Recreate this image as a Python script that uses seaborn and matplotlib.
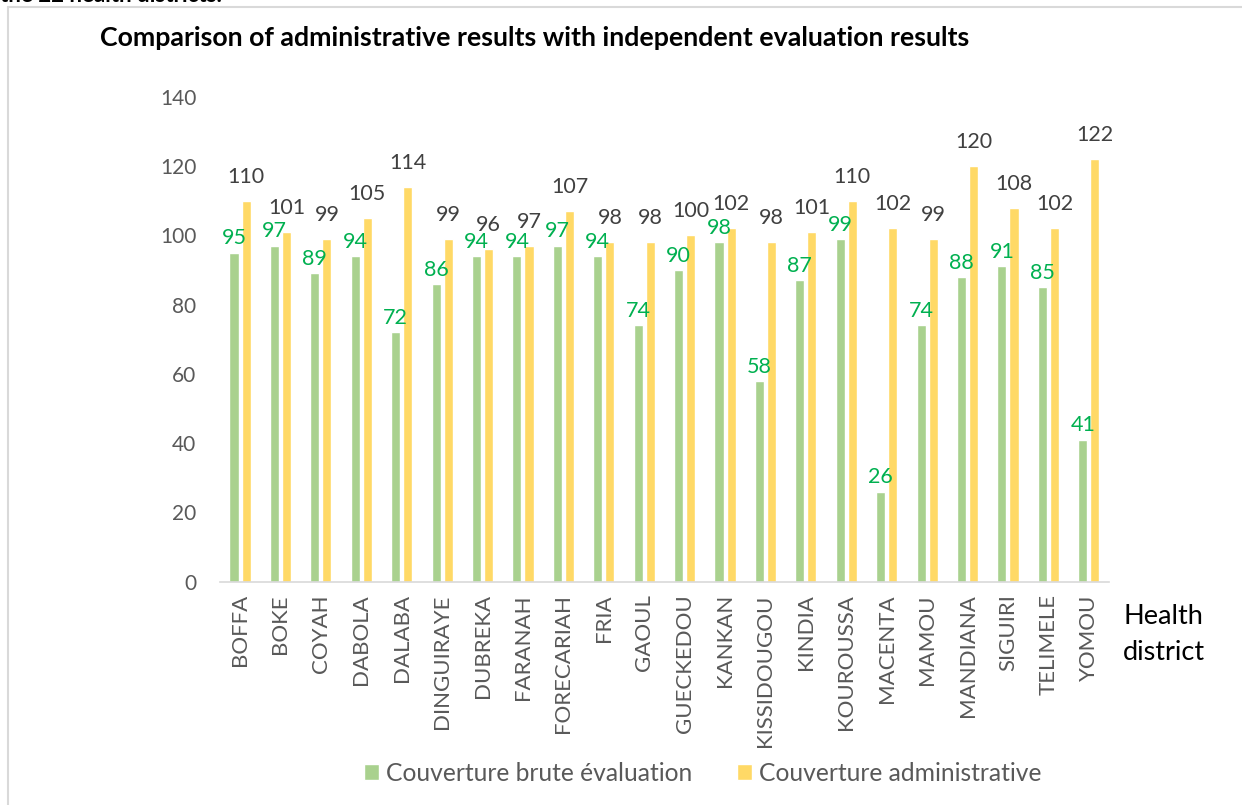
import matplotlib
matplotlib.use("Agg")
import matplotlib.pyplot as plt
from matplotlib.lines import Line2D
import seaborn as sns
import pandas as pd

districts = ["BOFFA", "BOKE", "COYAH", "DABOLA", "DALABA", "DINGUIRAYE", "DUBREKA",
             "FARANAH", "FORECARIAH", "FRIA", "GAOUL", "GUECKEDOU", "KANKAN",
             "KISSIDOUGOU", "KINDIA", "KOUROUSSA", "MACENTA", "MAMOU", "MANDIANA",
             "SIGUIRI", "TELIMELE", "YOMOU"]
eval_coverage = [95, 97, 89, 94, 72, 86, 94, 94, 97, 94, 74, 90, 98, 58, 87, 99,
                 26, 74, 88, 91, 85, 41]
admin_coverage = [110, 101, 99, 105, 114, 99, 96, 97, 107, 98, 98, 100, 102, 98,
                  101, 110, 102, 99, 120, 108, 102, 122]
series_names = ["Couverture brute évaluation", "Couverture administrative"]
y_ticks = [0, 20, 40, 60, 80, 100, 120, 140]

sns.set_theme(style="white")
plt.rcParams["font.family"] = ["Lato", "DejaVu Sans"]

df = pd.DataFrame({
    "district": districts * 2,
    "value": eval_coverage + admin_coverage,
    "series": [series_names[0]] * len(districts) + [series_names[1]] * len(districts),
})

fig = plt.figure(figsize=(12.42, 8.05), dpi=100)
ax = fig.add_axes([0.177, 0.2774, 0.7159, 0.6025])

sns.barplot(data=df, x="district", y="value", hue="series", order=districts,
            hue_order=series_names, palette=["#A9D18E", "#FFD966"],
            width=0.6, gap=0.25, saturation=1, legend=True, ax=ax)

ax.set_ylim(0, 140)
ax.set_xlim(-0.5, len(districts) - 0.5)
ax.set_yticks(y_ticks)
ax.set_yticklabels([str(t) for t in y_ticks], color="#595959", fontsize=15)
ax.set_xticks(range(len(districts)))
ax.set_xticklabels(districts, rotation=90, color="#595959", fontsize=16)
ax.tick_params(axis="x", length=0, pad=9, labelsize=16)
ax.tick_params(axis="y", length=0, pad=17)
ax.set_xlabel("")
ax.set_ylabel("")
for side in ["top", "right", "left"]:
    ax.spines[side].set_visible(False)
ax.spines["bottom"].set_color("#d9d9d9")
ax.spines["bottom"].set_linewidth(1.2)

# value labels above each bar
ax.bar_label(ax.containers[0], labels=[str(v) for v in eval_coverage],
             padding=3, color="#00B050", fontsize=15.5)
ax.bar_label(ax.containers[1], labels=[str(v) for v in admin_coverage],
             padding=10, color="#404040", fontsize=15.5)

handles, labels = ax.get_legend_handles_labels()
ax.get_legend().remove()
fig.legend(handles, labels, loc="center", bbox_to_anchor=(703 / 1242, 1 - 773 / 805),
           ncol=2, frameon=False, fontsize=17.7, handlelength=0.6, handleheight=0.6,
           handletextpad=0.3, columnspacing=1.8, labelcolor="#595959")

fig.text(100 / 1242, 1 - 38 / 805,
         "Comparison of administrative results with independent evaluation results",
         fontsize=19.3, fontweight="bold", color="black", va="center", ha="left")

fig.text(1123 / 1242, 1 - 616 / 805, "Health", fontsize=19.5, color="black",
         va="center", ha="left")
fig.text(1123 / 1242, 1 - 652 / 805, "district", fontsize=19.5, color="black",
         va="center", ha="left")

# preceding paragraph line, mostly above the frame
fig.text(0.0, 1 - 2 / 805, "the 22 health districts.", fontsize=16,
         fontweight="bold", color="black", va="baseline", ha="left")

# chart frame (top and left edges)
top_y = 1 - 7 / 805
left_x = 8 / 1242
fig.add_artist(Line2D([left_x, 1.0], [top_y, top_y], transform=fig.transFigure,
                      color="#d9d9d9", linewidth=1.5))
fig.add_artist(Line2D([left_x, left_x], [0.0, top_y], transform=fig.transFigure,
                      color="#d9d9d9", linewidth=1.5))

fig.savefig("out.png", dpi=100)
